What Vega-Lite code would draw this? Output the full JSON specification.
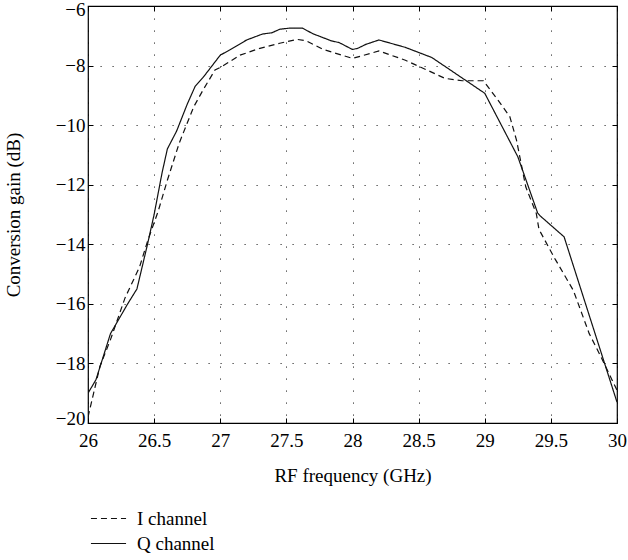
{
  "$schema": "https://vega.github.io/schema/vega-lite/v6.json",
  "width": 529,
  "height": 417,
  "autosize": {"type": "none"},
  "padding": {"left": 88, "top": 6, "right": 11, "bottom": 137},
  "background": "white",
  "config": {
    "font": "Liberation Serif",
    "view": {"stroke": "#000", "strokeWidth": 1.2},
    "axis": {
      "labelFont": "Liberation Serif",
      "titleFont": "Liberation Serif",
      "labelFontSize": 19,
      "titleFontSize": 19,
      "titleFontWeight": "normal",
      "labelColor": "#000",
      "titleColor": "#000",
      "tickColor": "#000",
      "domain": false,
      "tickSize": -5,
      "tickWidth": 1,
      "gridColor": "#000",
      "gridOpacity": 0.8,
      "gridDash": [1.2, 10.8],
      "gridWidth": 1
    },
    "legend": {
      "labelFont": "Liberation Serif",
      "labelFontSize": 19,
      "labelColor": "#000"
    }
  },
  "datasets": {
    "curves": [
      {"freq": 26.0, "gain": -19.8, "channel": "I channel"},
      {"freq": 26.09, "gain": -18.1, "channel": "I channel"},
      {"freq": 26.17, "gain": -17.2, "channel": "I channel"},
      {"freq": 26.28, "gain": -15.8, "channel": "I channel"},
      {"freq": 26.39, "gain": -14.76, "channel": "I channel"},
      {"freq": 26.45, "gain": -13.9, "channel": "I channel"},
      {"freq": 26.53, "gain": -12.9, "channel": "I channel"},
      {"freq": 26.6, "gain": -11.85, "channel": "I channel"},
      {"freq": 26.69, "gain": -10.6, "channel": "I channel"},
      {"freq": 26.8, "gain": -9.38, "channel": "I channel"},
      {"freq": 26.87, "gain": -8.82, "channel": "I channel"},
      {"freq": 26.96, "gain": -8.15, "channel": "I channel"},
      {"freq": 27.01, "gain": -8.04, "channel": "I channel"},
      {"freq": 27.15, "gain": -7.65, "channel": "I channel"},
      {"freq": 27.3, "gain": -7.42, "channel": "I channel"},
      {"freq": 27.45, "gain": -7.25, "channel": "I channel"},
      {"freq": 27.58, "gain": -7.12, "channel": "I channel"},
      {"freq": 27.65, "gain": -7.17, "channel": "I channel"},
      {"freq": 27.78, "gain": -7.46, "channel": "I channel"},
      {"freq": 28.0, "gain": -7.76, "channel": "I channel"},
      {"freq": 28.2, "gain": -7.51, "channel": "I channel"},
      {"freq": 28.4, "gain": -7.82, "channel": "I channel"},
      {"freq": 28.7, "gain": -8.43, "channel": "I channel"},
      {"freq": 28.83, "gain": -8.51, "channel": "I channel"},
      {"freq": 28.99, "gain": -8.51, "channel": "I channel"},
      {"freq": 29.1, "gain": -9.16, "channel": "I channel"},
      {"freq": 29.19, "gain": -9.72, "channel": "I channel"},
      {"freq": 29.24, "gain": -10.5, "channel": "I channel"},
      {"freq": 29.31, "gain": -12.07, "channel": "I channel"},
      {"freq": 29.39, "gain": -12.97, "channel": "I channel"},
      {"freq": 29.41, "gain": -13.5, "channel": "I channel"},
      {"freq": 29.53, "gain": -14.48, "channel": "I channel"},
      {"freq": 29.67, "gain": -15.55, "channel": "I channel"},
      {"freq": 29.79, "gain": -17.0, "channel": "I channel"},
      {"freq": 29.88, "gain": -17.79, "channel": "I channel"},
      {"freq": 30.0, "gain": -18.9, "channel": "I channel"},
      {"freq": 26.0, "gain": -19.0, "channel": "Q channel"},
      {"freq": 26.06, "gain": -18.55, "channel": "Q channel"},
      {"freq": 26.17, "gain": -17.0, "channel": "Q channel"},
      {"freq": 26.3, "gain": -16.0, "channel": "Q channel"},
      {"freq": 26.37, "gain": -15.5, "channel": "Q channel"},
      {"freq": 26.45, "gain": -14.0, "channel": "Q channel"},
      {"freq": 26.5, "gain": -13.0, "channel": "Q channel"},
      {"freq": 26.56, "gain": -11.6, "channel": "Q channel"},
      {"freq": 26.6, "gain": -10.8, "channel": "Q channel"},
      {"freq": 26.67, "gain": -10.2, "channel": "Q channel"},
      {"freq": 26.75, "gain": -9.3, "channel": "Q channel"},
      {"freq": 26.81, "gain": -8.7, "channel": "Q channel"},
      {"freq": 26.87, "gain": -8.4, "channel": "Q channel"},
      {"freq": 27.0, "gain": -7.65, "channel": "Q channel"},
      {"freq": 27.07, "gain": -7.48, "channel": "Q channel"},
      {"freq": 27.2, "gain": -7.14, "channel": "Q channel"},
      {"freq": 27.32, "gain": -6.94, "channel": "Q channel"},
      {"freq": 27.39, "gain": -6.9, "channel": "Q channel"},
      {"freq": 27.45, "gain": -6.78, "channel": "Q channel"},
      {"freq": 27.53, "gain": -6.74, "channel": "Q channel"},
      {"freq": 27.62, "gain": -6.74, "channel": "Q channel"},
      {"freq": 27.7, "gain": -6.93, "channel": "Q channel"},
      {"freq": 27.84, "gain": -7.17, "channel": "Q channel"},
      {"freq": 27.9, "gain": -7.23, "channel": "Q channel"},
      {"freq": 28.0, "gain": -7.46, "channel": "Q channel"},
      {"freq": 28.04, "gain": -7.42, "channel": "Q channel"},
      {"freq": 28.1, "gain": -7.29, "channel": "Q channel"},
      {"freq": 28.2, "gain": -7.14, "channel": "Q channel"},
      {"freq": 28.4, "gain": -7.39, "channel": "Q channel"},
      {"freq": 28.6, "gain": -7.73, "channel": "Q channel"},
      {"freq": 28.85, "gain": -8.48, "channel": "Q channel"},
      {"freq": 29.0, "gain": -8.93, "channel": "Q channel"},
      {"freq": 29.25, "gain": -11.06, "channel": "Q channel"},
      {"freq": 29.4, "gain": -12.95, "channel": "Q channel"},
      {"freq": 29.42, "gain": -13.05, "channel": "Q channel"},
      {"freq": 29.6, "gain": -13.75, "channel": "Q channel"},
      {"freq": 30.0, "gain": -19.3, "channel": "Q channel"}
    ]
  },
  "data": {"name": "curves"},
  "layer": [
    {
      "mark": {"type": "line", "color": "#111", "strokeWidth": 1.2, "clip": true},
      "encoding": {
        "x": {
          "field": "freq", "type": "quantitative",
          "scale": {"domain": [26, 30], "nice": false, "zero": false},
          "axis": {
            "orient": "bottom", "grid": true, "format": "~f",
            "values": [26, 26.5, 27, 27.5, 28, 28.5, 29, 29.5, 30],
            "title": "RF frequency (GHz)",
            "labelPadding": 13, "titlePadding": 16, "labelFlush": false
          }
        },
        "y": {
          "field": "gain", "type": "quantitative",
          "scale": {"domain": [-20, -6], "nice": false, "zero": false},
          "axis": {
            "orient": "left", "grid": true, "format": "~f",
            "values": [-20, -18, -16, -14, -12, -10, -8, -6],
            "title": "Conversion gain (dB)",
            "labelPadding": 8, "titlePadding": 32, "labelFlush": false,
            "labelOffset": {"condition": [{"test": "datum.value == -20", "value": -5}, {"test": "datum.value == -6", "value": 3}], "value": 0}
          }
        },
        "strokeDash": {
          "field": "channel", "type": "nominal",
          "scale": {"domain": ["I channel", "Q channel"], "range": [[6, 4], [1, 0]]},
          "legend": {
            "title": null, "orient": "none", "legendX": 6, "legendY": 498,
            "symbolType": "M-1.3,0H1.3", "symbolSize": 729, "symbolStrokeWidth": 1.2,
            "symbolStrokeColor": "#111", "symbolFillColor": "transparent",
            "labelOffset": 14, "rowPadding": 0
          }
        }
      }
    },
    {
      "mark": {"type": "line", "strokeOpacity": 0},
      "encoding": {
        "x": {
          "field": "freq", "type": "quantitative",
          "axis": {
            "orient": "top", "grid": false, "labels": false, "title": null,
            "values": [26, 26.5, 27, 27.5, 28, 28.5, 29, 29.5, 30]
          }
        },
        "y": {
          "field": "gain", "type": "quantitative",
          "axis": {
            "orient": "right", "grid": false, "labels": false, "title": null,
            "values": [-20, -18, -16, -14, -12, -10, -8, -6]
          }
        },
        "detail": {"field": "channel"}
      }
    }
  ],
  "resolve": {"axis": {"x": "independent", "y": "independent"}}
}
